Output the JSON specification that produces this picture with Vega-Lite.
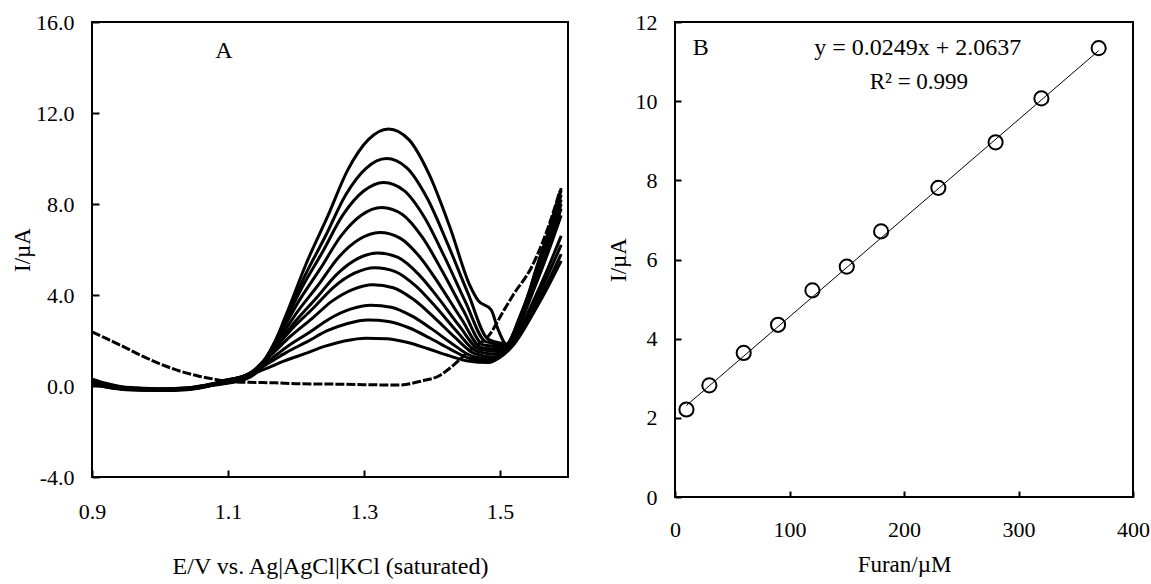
{
"$schema": "https://vega.github.io/schema/vega-lite/v6.json",
"background": "white",
"padding": {"left": 10, "top": 10, "right": 5, "bottom": 5},
"bounds": "flush",
"spacing": 107,
"config": {
  "font": "Liberation Serif",
  "view": {"stroke": "black", "strokeWidth": 2},
  "axis": {"domain": false, "grid": false, "ticks": true, "zindex": 1, "labelFont": "Liberation Serif", "titleFont": "Liberation Serif", "labelFontSize": 22, "titleFontSize": 23, "labelColor": "black", "titleColor": "black", "titleFontWeight": "normal", "tickColor": "black", "tickWidth": 2, "tickOpacity": 1, "labelFlush": false, "labelOverlap": false, "labelBound": false}
},
"datasets": {
"curves": [
{"s":"c1","E":0.90,"I":0.20},{"s":"c1","E":0.92,"I":0.05},{"s":"c1","E":0.95,"I":-0.10},{"s":"c1","E":1.00,"I":-0.15},{"s":"c1","E":1.04,"I":-0.12},{"s":"c1","E":1.07,"I":0.02},{"s":"c1","E":1.093,"I":0.24},{"s":"c1","E":1.123,"I":0.40},{"s":"c1","E":1.153,"I":0.73},{"s":"c1","E":1.183,"I":1.10},{"s":"c1","E":1.213,"I":1.42},{"s":"c1","E":1.243,"I":1.75},{"s":"c1","E":1.273,"I":1.99},{"s":"c1","E":1.303,"I":2.10},{"s":"c1","E":1.333,"I":2.08},{"s":"c1","E":1.363,"I":1.92},{"s":"c1","E":1.393,"I":1.65},{"s":"c1","E":1.423,"I":1.35},{"s":"c1","E":1.453,"I":1.10},{"s":"c1","E":1.483,"I":1.03},{"s":"c1","E":1.50,"I":1.26},{"s":"c1","E":1.52,"I":1.81},{"s":"c1","E":1.55,"I":3.25},{"s":"c1","E":1.57,"I":4.33},{"s":"c1","E":1.59,"I":5.50},
{"s":"c2","E":0.90,"I":0.28},{"s":"c2","E":0.92,"I":0.10},{"s":"c2","E":0.95,"I":-0.08},{"s":"c2","E":1.00,"I":-0.17},{"s":"c2","E":1.04,"I":-0.14},{"s":"c2","E":1.07,"I":0.00},{"s":"c2","E":1.096,"I":0.24},{"s":"c2","E":1.126,"I":0.46},{"s":"c2","E":1.156,"I":0.94},{"s":"c2","E":1.186,"I":1.48},{"s":"c2","E":1.216,"I":1.94},{"s":"c2","E":1.246,"I":2.43},{"s":"c2","E":1.276,"I":2.75},{"s":"c2","E":1.306,"I":2.90},{"s":"c2","E":1.336,"I":2.84},{"s":"c2","E":1.366,"I":2.56},{"s":"c2","E":1.396,"I":2.12},{"s":"c2","E":1.426,"I":1.63},{"s":"c2","E":1.456,"I":1.21},{"s":"c2","E":1.486,"I":1.10},{"s":"c2","E":1.50,"I":1.28},{"s":"c2","E":1.52,"I":1.86},{"s":"c2","E":1.55,"I":3.40},{"s":"c2","E":1.57,"I":4.55},{"s":"c2","E":1.59,"I":5.80},
{"s":"c3","E":0.90,"I":0.10},{"s":"c3","E":0.92,"I":-0.02},{"s":"c3","E":0.95,"I":-0.15},{"s":"c3","E":1.00,"I":-0.20},{"s":"c3","E":1.04,"I":-0.16},{"s":"c3","E":1.07,"I":-0.02},{"s":"c3","E":1.10,"I":0.25},{"s":"c3","E":1.13,"I":0.51},{"s":"c3","E":1.16,"I":1.12},{"s":"c3","E":1.19,"I":1.79},{"s":"c3","E":1.22,"I":2.36},{"s":"c3","E":1.25,"I":2.97},{"s":"c3","E":1.28,"I":3.38},{"s":"c3","E":1.31,"I":3.55},{"s":"c3","E":1.34,"I":3.46},{"s":"c3","E":1.37,"I":3.08},{"s":"c3","E":1.40,"I":2.50},{"s":"c3","E":1.43,"I":1.85},{"s":"c3","E":1.46,"I":1.30},{"s":"c3","E":1.49,"I":1.19},{"s":"c3","E":1.52,"I":1.94},{"s":"c3","E":1.55,"I":3.60},{"s":"c3","E":1.57,"I":4.85},{"s":"c3","E":1.59,"I":6.20},
{"s":"c4","E":0.90,"I":0.22},{"s":"c4","E":0.92,"I":0.06},{"s":"c4","E":0.95,"I":-0.10},{"s":"c4","E":1.00,"I":-0.14},{"s":"c4","E":1.04,"I":-0.10},{"s":"c4","E":1.07,"I":0.04},{"s":"c4","E":1.103,"I":0.26},{"s":"c4","E":1.133,"I":0.58},{"s":"c4","E":1.163,"I":1.36},{"s":"c4","E":1.193,"I":2.21},{"s":"c4","E":1.223,"I":2.95},{"s":"c4","E":1.253,"I":3.73},{"s":"c4","E":1.283,"I":4.24},{"s":"c4","E":1.313,"I":4.45},{"s":"c4","E":1.343,"I":4.32},{"s":"c4","E":1.373,"I":3.80},{"s":"c4","E":1.403,"I":3.02},{"s":"c4","E":1.433,"I":2.16},{"s":"c4","E":1.463,"I":1.42},{"s":"c4","E":1.493,"I":1.27},{"s":"c4","E":1.52,"I":2.01},{"s":"c4","E":1.55,"I":3.80},{"s":"c4","E":1.57,"I":5.14},{"s":"c4","E":1.59,"I":6.60},
{"s":"c5","E":0.90,"I":0.30},{"s":"c5","E":0.92,"I":0.12},{"s":"c5","E":0.95,"I":-0.06},{"s":"c5","E":1.00,"I":-0.12},{"s":"c5","E":1.04,"I":-0.08},{"s":"c5","E":1.07,"I":0.06},{"s":"c5","E":1.106,"I":0.26},{"s":"c5","E":1.136,"I":0.64},{"s":"c5","E":1.166,"I":1.56},{"s":"c5","E":1.196,"I":2.57},{"s":"c5","E":1.226,"I":3.44},{"s":"c5","E":1.256,"I":4.36},{"s":"c5","E":1.286,"I":4.96},{"s":"c5","E":1.316,"I":5.20},{"s":"c5","E":1.346,"I":5.03},{"s":"c5","E":1.376,"I":4.40},{"s":"c5","E":1.406,"I":3.46},{"s":"c5","E":1.436,"I":2.42},{"s":"c5","E":1.466,"I":1.52},{"s":"c5","E":1.496,"I":1.39},{"s":"c5","E":1.52,"I":2.17},{"s":"c5","E":1.55,"I":4.25},{"s":"c5","E":1.57,"I":5.81},{"s":"c5","E":1.59,"I":7.50},
{"s":"c6","E":0.90,"I":0.05},{"s":"c6","E":0.92,"I":-0.05},{"s":"c6","E":0.95,"I":-0.16},{"s":"c6","E":1.00,"I":-0.18},{"s":"c6","E":1.04,"I":-0.13},{"s":"c6","E":1.07,"I":0.00},{"s":"c6","E":1.11,"I":0.27},{"s":"c6","E":1.14,"I":0.69},{"s":"c6","E":1.17,"I":1.73},{"s":"c6","E":1.20,"I":2.88},{"s":"c6","E":1.23,"I":3.87},{"s":"c6","E":1.26,"I":4.91},{"s":"c6","E":1.29,"I":5.59},{"s":"c6","E":1.32,"I":5.85},{"s":"c6","E":1.35,"I":5.65},{"s":"c6","E":1.38,"I":4.92},{"s":"c6","E":1.41,"I":3.84},{"s":"c6","E":1.44,"I":2.65},{"s":"c6","E":1.47,"I":1.61},{"s":"c6","E":1.50,"I":1.51},{"s":"c6","E":1.52,"I":2.22},{"s":"c6","E":1.55,"I":4.40},{"s":"c6","E":1.57,"I":6.03},{"s":"c6","E":1.59,"I":7.80},
{"s":"c7","E":0.90,"I":0.18},{"s":"c7","E":0.92,"I":0.02},{"s":"c7","E":0.95,"I":-0.12},{"s":"c7","E":1.00,"I":-0.16},{"s":"c7","E":1.04,"I":-0.11},{"s":"c7","E":1.07,"I":0.03},{"s":"c7","E":1.113,"I":0.27},{"s":"c7","E":1.143,"I":0.76},{"s":"c7","E":1.173,"I":1.97},{"s":"c7","E":1.203,"I":3.30},{"s":"c7","E":1.233,"I":4.45},{"s":"c7","E":1.263,"I":5.67},{"s":"c7","E":1.293,"I":6.45},{"s":"c7","E":1.323,"I":6.75},{"s":"c7","E":1.353,"I":6.50},{"s":"c7","E":1.383,"I":5.64},{"s":"c7","E":1.413,"I":4.36},{"s":"c7","E":1.443,"I":2.96},{"s":"c7","E":1.473,"I":1.68},{"s":"c7","E":1.503,"I":1.60},{"s":"c7","E":1.53,"I":3.01},{"s":"c7","E":1.55,"I":4.50},{"s":"c7","E":1.57,"I":6.18},{"s":"c7","E":1.59,"I":8.00},
{"s":"c8","E":0.90,"I":0.25},{"s":"c8","E":0.92,"I":0.08},{"s":"c8","E":0.95,"I":-0.08},{"s":"c8","E":1.00,"I":-0.13},{"s":"c8","E":1.04,"I":-0.09},{"s":"c8","E":1.07,"I":0.05},{"s":"c8","E":1.116,"I":0.28},{"s":"c8","E":1.146,"I":0.84},{"s":"c8","E":1.176,"I":2.26},{"s":"c8","E":1.206,"I":3.82},{"s":"c8","E":1.236,"I":5.17},{"s":"c8","E":1.266,"I":6.59},{"s":"c8","E":1.296,"I":7.51},{"s":"c8","E":1.326,"I":7.85},{"s":"c8","E":1.356,"I":7.55},{"s":"c8","E":1.386,"I":6.53},{"s":"c8","E":1.416,"I":5.00},{"s":"c8","E":1.446,"I":3.33},{"s":"c8","E":1.476,"I":1.80},{"s":"c8","E":1.506,"I":1.72},{"s":"c8","E":1.53,"I":3.07},{"s":"c8","E":1.55,"I":4.60},{"s":"c8","E":1.57,"I":6.33},{"s":"c8","E":1.59,"I":8.20},
{"s":"c9","E":0.90,"I":0.12},{"s":"c9","E":0.92,"I":0.00},{"s":"c9","E":0.95,"I":-0.13},{"s":"c9","E":1.00,"I":-0.17},{"s":"c9","E":1.04,"I":-0.12},{"s":"c9","E":1.07,"I":0.02},{"s":"c9","E":1.119,"I":0.29},{"s":"c9","E":1.149,"I":0.92},{"s":"c9","E":1.179,"I":2.55},{"s":"c9","E":1.209,"I":4.34},{"s":"c9","E":1.239,"I":5.89},{"s":"c9","E":1.269,"I":7.52},{"s":"c9","E":1.299,"I":8.56},{"s":"c9","E":1.329,"I":8.95},{"s":"c9","E":1.359,"I":8.59},{"s":"c9","E":1.389,"I":7.41},{"s":"c9","E":1.419,"I":5.64},{"s":"c9","E":1.449,"I":3.71},{"s":"c9","E":1.479,"I":1.95},{"s":"c9","E":1.509,"I":1.80},{"s":"c9","E":1.53,"I":3.12},{"s":"c9","E":1.55,"I":4.70},{"s":"c9","E":1.57,"I":6.48},{"s":"c9","E":1.59,"I":8.40},
{"s":"c10","E":0.90,"I":0.20},{"s":"c10","E":0.92,"I":0.04},{"s":"c10","E":0.95,"I":-0.11},{"s":"c10","E":1.00,"I":-0.15},{"s":"c10","E":1.04,"I":-0.11},{"s":"c10","E":1.07,"I":0.03},{"s":"c10","E":1.123,"I":0.29},{"s":"c10","E":1.153,"I":1.00},{"s":"c10","E":1.183,"I":2.83},{"s":"c10","E":1.213,"I":4.84},{"s":"c10","E":1.243,"I":6.57},{"s":"c10","E":1.273,"I":8.40},{"s":"c10","E":1.303,"I":9.57},{"s":"c10","E":1.333,"I":10.00},{"s":"c10","E":1.363,"I":9.59},{"s":"c10","E":1.393,"I":8.25},{"s":"c10","E":1.423,"I":6.25},{"s":"c10","E":1.453,"I":4.07},{"s":"c10","E":1.483,"I":2.05},{"s":"c10","E":1.513,"I":1.85},{"s":"c10","E":1.53,"I":3.00},{"s":"c10","E":1.55,"I":4.80},{"s":"c10","E":1.57,"I":6.62},{"s":"c10","E":1.59,"I":8.60},
{"s":"c11","E":0.90,"I":0.08},{"s":"c11","E":0.92,"I":-0.03},{"s":"c11","E":0.95,"I":-0.14},{"s":"c11","E":1.00,"I":-0.19},{"s":"c11","E":1.04,"I":-0.14},{"s":"c11","E":1.07,"I":0.00},{"s":"c11","E":1.126,"I":0.30},{"s":"c11","E":1.156,"I":1.10},{"s":"c11","E":1.186,"I":3.17},{"s":"c11","E":1.216,"I":5.45},{"s":"c11","E":1.246,"I":7.42},{"s":"c11","E":1.276,"I":9.49},{"s":"c11","E":1.306,"I":10.82},{"s":"c11","E":1.336,"I":11.30},{"s":"c11","E":1.366,"I":10.83},{"s":"c11","E":1.396,"I":9.29},{"s":"c11","E":1.426,"I":7.01},{"s":"c11","E":1.456,"I":4.40},{"s":"c11","E":1.468,"I":3.75},{"s":"c11","E":1.487,"I":3.35},{"s":"c11","E":1.497,"I":2.50},{"s":"c11","E":1.512,"I":1.75},{"s":"c11","E":1.53,"I":2.70},{"s":"c11","E":1.55,"I":4.85},{"s":"c11","E":1.57,"I":6.70},{"s":"c11","E":1.59,"I":8.70}
],
"blank": [
{"E":0.90,"I":2.38},{"E":0.92,"I":2.10},{"E":0.944,"I":1.76},{"E":0.975,"I":1.30},{"E":1.008,"I":0.88},{"E":1.03,"I":0.65},{"E":1.056,"I":0.44},{"E":1.08,"I":0.30},{"E":1.096,"I":0.22},{"E":1.13,"I":0.16},{"E":1.17,"I":0.14},{"E":1.20,"I":0.10},{"E":1.263,"I":0.08},{"E":1.30,"I":0.06},{"E":1.35,"I":0.04},{"E":1.385,"I":0.22},{"E":1.41,"I":0.44},{"E":1.429,"I":0.85},{"E":1.455,"I":1.55},{"E":1.485,"I":2.27},{"E":1.505,"I":3.29},{"E":1.52,"I":4.03},{"E":1.546,"I":5.20},{"E":1.57,"I":6.90},{"E":1.588,"I":8.56}
],
"pts": [
{"c":10,"I":2.21},{"c":30,"I":2.82},{"c":60,"I":3.64},{"c":90,"I":4.35},{"c":120,"I":5.22},{"c":150,"I":5.82},{"c":180,"I":6.71},{"c":230,"I":7.81},{"c":280,"I":8.96},{"c":320,"I":10.07},{"c":370,"I":11.34}
],
"fit": [
{"c":10,"I":2.3127},{"c":370,"I":11.2767}
]
},
"hconcat": [
{
  "width": 476, "height": 455,
  "layer": [
    {"data": {"name": "curves"},
     "mark": {"type": "line", "color": "black", "strokeWidth": 3, "interpolate": "monotone"},
     "encoding": {
       "x": {"field": "E", "type": "quantitative", "scale": {"domain": [0.9, 1.6], "nice": false, "zero": false},
             "axis": {"values": [0.9, 1.1, 1.3, 1.5], "format": ".1f", "title": "E/V vs. Ag|AgCl|KCl (saturated)", "titleFontSize": 24, "offset": -7, "tickSize": 7, "labelPadding": 24, "titlePadding": 32}},
       "y": {"field": "I", "type": "quantitative", "scale": {"domain": [-4, 16], "nice": false, "zero": false},
             "axis": {"values": [-4, 0, 4, 8, 12, 16], "labelExpr": "datum.value < 0 ? '-' + format(-datum.value, '.1f') : format(datum.value, '.1f')", "title": "I/µA", "offset": -7, "tickSize": 7, "labelPadding": 18, "titleX": -64.5}},
       "detail": {"field": "s"}
     }},
    {"data": {"name": "blank"},
     "mark": {"type": "line", "color": "black", "strokeWidth": 3, "strokeDash": [9, 2], "interpolate": "monotone"},
     "encoding": {"x": {"field": "E", "type": "quantitative"}, "y": {"field": "I", "type": "quantitative"}}},
    {"data": {"values": [{}]},
     "mark": {"type": "text", "text": "A", "fontSize": 24, "font": "Liberation Serif", "color": "black"},
     "encoding": {"x": {"datum": 1.094, "type": "quantitative"}, "y": {"datum": 14.74, "type": "quantitative"}}}
  ]
},
{
  "width": 458, "height": 475,
  "layer": [
    {"data": {"name": "fit"},
     "mark": {"type": "line", "color": "black", "strokeWidth": 1},
     "encoding": {
       "x": {"field": "c", "type": "quantitative", "scale": {"domain": [0, 400], "nice": false},
             "axis": {"values": [0, 100, 200, 300, 400], "title": "Furan/µM", "offset": -6, "tickSize": 6, "labelPadding": 22, "titlePadding": 13}},
       "y": {"field": "I", "type": "quantitative", "scale": {"domain": [0, 12], "nice": false},
             "axis": {"values": [0, 2, 4, 6, 8, 10, 12], "title": "I/µA", "offset": -6, "tickSize": 6, "labelPadding": 18, "titleX": -51}}
     }},
    {"data": {"name": "pts"},
     "mark": {"type": "point", "shape": "circle", "filled": false, "color": "black", "strokeWidth": 2, "size": 200, "opacity": 1},
     "encoding": {"x": {"field": "c", "type": "quantitative"}, "y": {"field": "I", "type": "quantitative"}}},
    {"data": {"values": [{}]},
     "mark": {"type": "text", "text": "B", "fontSize": 24, "font": "Liberation Serif", "color": "black"},
     "encoding": {"x": {"datum": 22.5, "type": "quantitative"}, "y": {"datum": 11.34, "type": "quantitative"}}},
    {"data": {"values": [{}]},
     "mark": {"type": "text", "text": "y = 0.0249x + 2.0637", "fontSize": 24, "font": "Liberation Serif", "color": "black"},
     "encoding": {"x": {"datum": 212, "type": "quantitative"}, "y": {"datum": 11.34, "type": "quantitative"}}},
    {"data": {"values": [{}]},
     "mark": {"type": "text", "text": "R² = 0.999", "fontSize": 23, "font": "Liberation Serif", "color": "black"},
     "encoding": {"x": {"datum": 213, "type": "quantitative"}, "y": {"datum": 10.48, "type": "quantitative"}}}
  ]
}
]
}
